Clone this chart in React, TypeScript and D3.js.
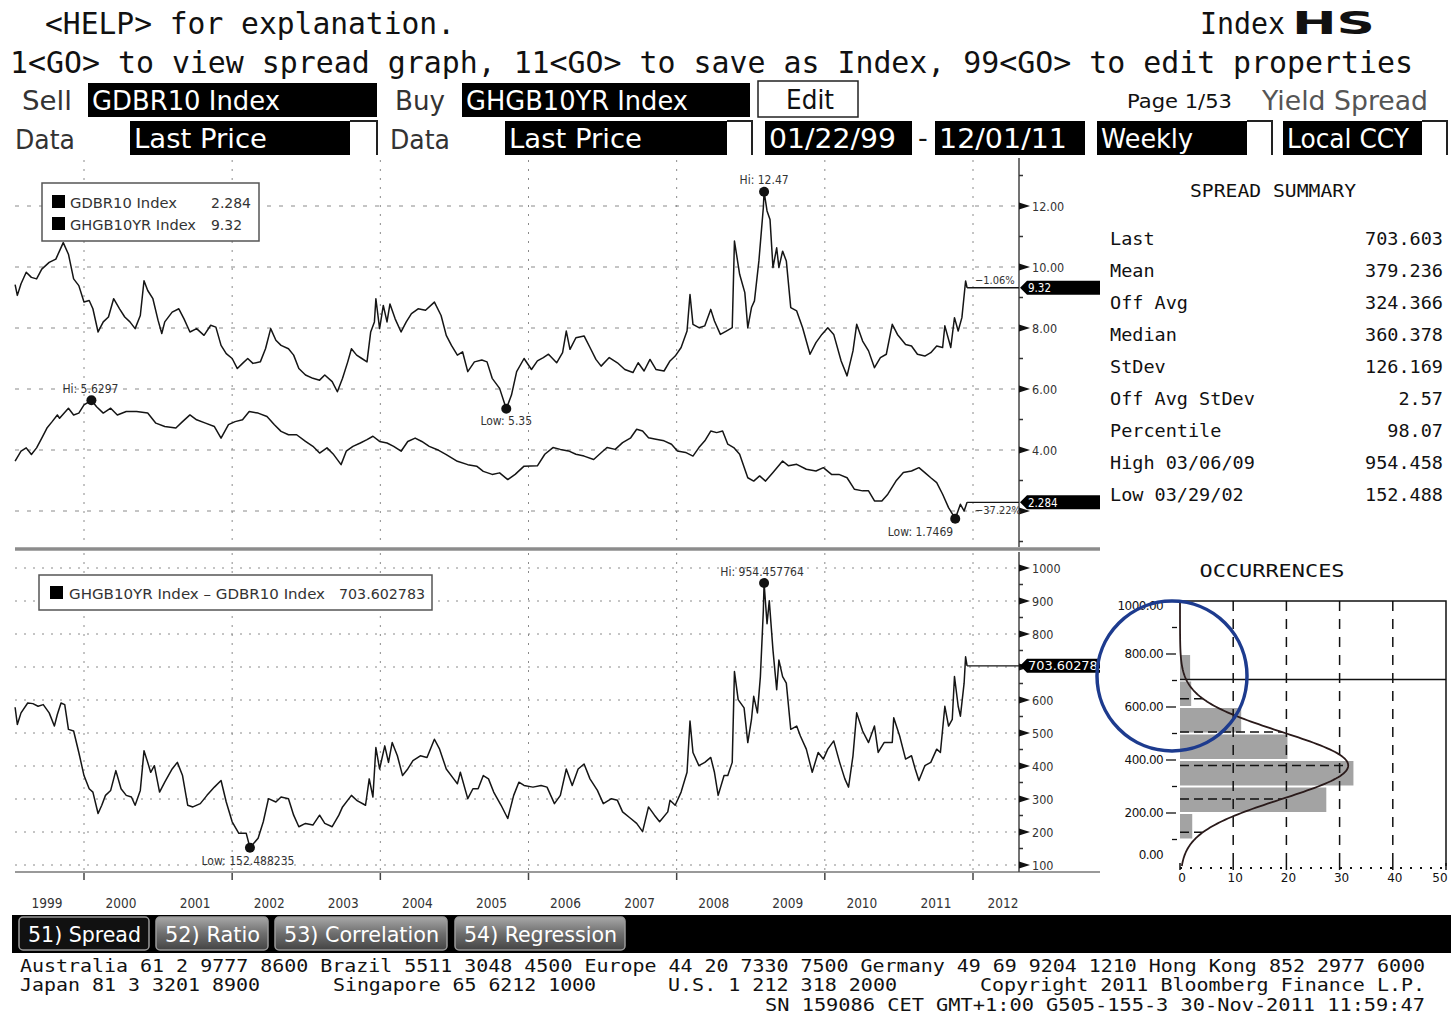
import React from "react";
import * as d3 from "d3";

type Pt = [number, number];

// weekly series, [decimal year, value]
const GDBR10: Pt[] = [
  [1999.07, 3.638], [1999.15, 3.96], [1999.22, 4.07], [1999.29, 3.85], [1999.36, 4.07], [1999.43, 4.39], [1999.5, 4.72],
  [1999.57, 4.93], [1999.64, 5.15], [1999.67, 5.04], [1999.79, 5.37], [1999.86, 5.15], [1999.93, 5.21], [2000.0, 5.48],
  [2000.1, 5.6297], [2000.17, 5.42], [2000.26, 5.21], [2000.36, 5.37], [2000.45, 5.15], [2000.57, 5.26], [2000.71, 5.26],
  [2000.86, 5.21], [2000.97, 4.88], [2001.09, 4.77], [2001.24, 4.72], [2001.33, 4.93], [2001.43, 5.15], [2001.52, 4.99],
  [2001.64, 4.88], [2001.76, 4.77], [2001.85, 4.39], [2001.95, 4.83], [2002.04, 4.93], [2002.14, 4.99], [2002.23, 5.26],
  [2002.35, 5.21], [2002.47, 5.1], [2002.57, 4.83], [2002.66, 4.61], [2002.76, 4.5], [2002.87, 4.5], [2002.99, 4.28],
  [2003.09, 4.12], [2003.18, 3.9], [2003.28, 4.07], [2003.37, 3.85], [2003.47, 3.52], [2003.54, 3.96], [2003.63, 4.12],
  [2003.73, 4.23], [2003.82, 4.34], [2003.9, 4.45], [2003.99, 4.28], [2004.09, 4.23], [2004.18, 4.12], [2004.28, 3.96],
  [2004.37, 4.28], [2004.47, 4.39], [2004.56, 4.28], [2004.66, 4.12], [2004.77, 4.01], [2004.89, 3.85], [2005.04, 3.63],
  [2005.18, 3.52], [2005.3, 3.47], [2005.39, 3.3], [2005.51, 3.2], [2005.61, 3.25], [2005.72, 3.03], [2005.82, 3.2],
  [2005.94, 3.47], [2006.12, 3.48], [2006.22, 3.86], [2006.33, 4.08], [2006.43, 4.02], [2006.54, 3.97], [2006.64, 3.86],
  [2006.75, 3.8], [2006.88, 3.69], [2006.98, 3.91], [2007.06, 4.08], [2007.17, 4.02], [2007.27, 4.24], [2007.38, 4.4],
  [2007.46, 4.68], [2007.54, 4.62], [2007.62, 4.4], [2007.72, 4.35], [2007.83, 4.3], [2007.93, 4.19], [2008.01, 3.97],
  [2008.12, 3.92], [2008.22, 3.8], [2008.3, 4.08], [2008.38, 4.3], [2008.46, 4.62], [2008.54, 4.57], [2008.62, 4.62],
  [2008.69, 4.19], [2008.77, 4.08], [2008.85, 3.86], [2008.96, 3.09], [2009.04, 2.98], [2009.12, 3.15], [2009.2, 2.98],
  [2009.3, 3.26], [2009.43, 3.64], [2009.51, 3.48], [2009.62, 3.53], [2009.75, 3.37], [2009.88, 3.31], [2009.98, 3.42],
  [2010.09, 3.2], [2010.19, 3.2], [2010.3, 3.09], [2010.4, 2.71], [2010.51, 2.66], [2010.59, 2.66], [2010.67, 2.33],
  [2010.77, 2.33], [2010.85, 2.55], [2010.96, 2.98], [2011.06, 3.26], [2011.17, 3.31], [2011.27, 3.42], [2011.35, 3.26],
  [2011.43, 3.09], [2011.51, 2.93], [2011.59, 2.55], [2011.67, 2.11], [2011.76, 1.7469], [2011.83, 2.22], [2011.88, 2.0],
  [2011.92, 2.284],
];

const GHGB10YR: Pt[] = [
  [1999.07, 9.42], [1999.1, 9.07], [1999.15, 9.45], [1999.22, 9.83], [1999.29, 9.66], [1999.36, 9.61], [1999.43, 9.93],
  [1999.53, 10.15], [1999.62, 10.26], [1999.67, 10.53], [1999.72, 10.8], [1999.79, 10.42], [1999.86, 9.61], [1999.93, 9.39],
  [2000.0, 8.85], [2000.07, 8.9], [2000.12, 8.63], [2000.19, 7.87], [2000.26, 8.2], [2000.33, 8.36], [2000.4, 8.96],
  [2000.48, 8.63], [2000.55, 8.36], [2000.62, 8.2], [2000.69, 7.98], [2000.76, 8.41], [2000.81, 9.55], [2000.86, 9.23],
  [2000.93, 8.96], [2001.0, 8.25], [2001.05, 7.82], [2001.09, 8.2], [2001.19, 8.52], [2001.28, 8.63], [2001.35, 8.3],
  [2001.43, 7.87], [2001.52, 7.98], [2001.62, 7.76], [2001.71, 8.09], [2001.78, 8.03], [2001.85, 7.43], [2001.92, 7.16],
  [2002.0, 7.0], [2002.07, 6.67], [2002.14, 6.84], [2002.21, 7.0], [2002.28, 6.84], [2002.38, 6.89], [2002.45, 7.32],
  [2002.52, 7.98], [2002.59, 7.6], [2002.66, 7.43], [2002.76, 7.32], [2002.83, 7.11], [2002.9, 6.67], [2002.99, 6.46],
  [2003.09, 6.35], [2003.18, 6.29], [2003.25, 6.46], [2003.35, 6.24], [2003.42, 5.91], [2003.49, 6.35], [2003.56, 6.89],
  [2003.61, 7.32], [2003.68, 7.11], [2003.75, 7.0], [2003.82, 6.89], [2003.87, 7.87], [2003.92, 8.2], [2003.94, 8.96],
  [2003.99, 7.98], [2004.04, 8.74], [2004.09, 8.2], [2004.13, 8.79], [2004.2, 8.3], [2004.28, 7.87], [2004.35, 8.2],
  [2004.42, 8.47], [2004.51, 8.63], [2004.61, 8.58], [2004.73, 8.85], [2004.82, 8.41], [2004.89, 7.76], [2004.96, 7.43],
  [2005.04, 7.11], [2005.11, 7.22], [2005.18, 6.57], [2005.27, 6.89], [2005.37, 6.95], [2005.44, 6.89], [2005.51, 6.35],
  [2005.61, 6.02], [2005.7, 5.35], [2005.77, 5.8], [2005.84, 6.57], [2005.94, 7.0], [2006.04, 6.64], [2006.12, 6.92],
  [2006.2, 7.03], [2006.27, 7.14], [2006.38, 6.86], [2006.46, 7.19], [2006.51, 7.9], [2006.56, 7.3], [2006.64, 7.68],
  [2006.75, 7.74], [2006.83, 7.36], [2006.91, 6.97], [2006.98, 6.75], [2007.09, 7.03], [2007.2, 6.86], [2007.3, 6.64],
  [2007.41, 6.54], [2007.48, 6.86], [2007.56, 6.59], [2007.64, 6.97], [2007.72, 6.64], [2007.83, 6.59], [2007.91, 6.92],
  [2007.98, 7.08], [2008.06, 7.36], [2008.14, 7.9], [2008.18, 9.1], [2008.22, 8.12], [2008.3, 8.01], [2008.38, 8.07],
  [2008.46, 8.61], [2008.51, 8.23], [2008.59, 7.79], [2008.67, 7.9], [2008.75, 8.01], [2008.78, 10.85], [2008.85, 9.76],
  [2008.92, 9.16], [2008.96, 8.01], [2009.01, 8.67], [2009.05, 8.89], [2009.11, 10.2], [2009.17, 11.95], [2009.18, 12.47],
  [2009.22, 11.84], [2009.26, 11.56], [2009.3, 9.98], [2009.35, 10.63], [2009.38, 9.98], [2009.43, 10.52], [2009.48, 10.2],
  [2009.54, 8.67], [2009.62, 8.56], [2009.7, 8.01], [2009.8, 7.14], [2009.88, 7.52], [2009.96, 7.79], [2010.04, 8.01],
  [2010.12, 7.79], [2010.22, 6.92], [2010.3, 6.43], [2010.38, 7.25], [2010.43, 8.12], [2010.51, 7.57], [2010.59, 7.25],
  [2010.67, 6.7], [2010.75, 7.03], [2010.83, 7.14], [2010.91, 8.12], [2010.98, 7.79], [2011.09, 7.46], [2011.17, 7.41],
  [2011.25, 7.14], [2011.35, 7.08], [2011.43, 7.19], [2011.51, 7.41], [2011.59, 7.36], [2011.62, 8.07], [2011.7, 7.36],
  [2011.75, 8.34], [2011.8, 7.9], [2011.85, 8.34], [2011.9, 9.54], [2011.92, 9.32],
];

const SPREAD: Pt[] = [
  [1999.07, 578], [1999.1, 526], [1999.15, 561], [1999.24, 591], [1999.31, 589], [1999.38, 581], [1999.45, 586],
  [1999.53, 561], [1999.6, 521], [1999.64, 556], [1999.69, 591], [1999.74, 586], [1999.79, 511], [1999.86, 506],
  [1999.93, 441], [2000.0, 371], [2000.07, 331], [2000.12, 321], [2000.19, 256], [2000.24, 281], [2000.29, 311],
  [2000.36, 326], [2000.43, 386], [2000.5, 331], [2000.57, 311], [2000.64, 306], [2000.69, 281], [2000.76, 326],
  [2000.81, 446], [2000.86, 411], [2000.9, 381], [2000.95, 401], [2001.02, 321], [2001.09, 351], [2001.19, 391],
  [2001.26, 411], [2001.33, 371], [2001.4, 281], [2001.47, 276], [2001.57, 286], [2001.66, 311], [2001.76, 336],
  [2001.85, 356], [2001.92, 291], [2002.0, 231], [2002.09, 196], [2002.19, 196], [2002.24, 152.488235], [2002.35, 181],
  [2002.42, 231], [2002.49, 301], [2002.59, 291], [2002.66, 306], [2002.76, 301], [2002.83, 251], [2002.9, 216],
  [2002.99, 226], [2003.09, 221], [2003.18, 251], [2003.25, 226], [2003.35, 216], [2003.44, 251], [2003.49, 276],
  [2003.61, 311], [2003.68, 296], [2003.8, 281], [2003.85, 361], [2003.9, 306], [2003.94, 456], [2003.99, 391],
  [2004.06, 461], [2004.11, 411], [2004.16, 471], [2004.23, 431], [2004.3, 371], [2004.37, 391], [2004.44, 416],
  [2004.54, 431], [2004.63, 426], [2004.73, 481], [2004.8, 451], [2004.89, 391], [2004.99, 361], [2005.04, 346],
  [2005.08, 381], [2005.18, 301], [2005.25, 331], [2005.32, 331], [2005.39, 371], [2005.46, 361], [2005.53, 321],
  [2005.63, 281], [2005.72, 241], [2005.8, 311], [2005.87, 351], [2005.94, 341], [2006.06, 336], [2006.17, 341],
  [2006.25, 336], [2006.35, 286], [2006.43, 311], [2006.51, 391], [2006.59, 341], [2006.67, 391], [2006.75, 406],
  [2006.83, 361], [2006.93, 326], [2007.01, 286], [2007.12, 301], [2007.2, 296], [2007.27, 261], [2007.38, 241],
  [2007.46, 226], [2007.54, 201], [2007.62, 276], [2007.7, 251], [2007.77, 231], [2007.88, 261], [2007.91, 296],
  [2007.98, 281], [2008.06, 321], [2008.14, 381], [2008.18, 536], [2008.22, 441], [2008.3, 401], [2008.38, 411],
  [2008.46, 426], [2008.51, 381], [2008.56, 311], [2008.64, 371], [2008.69, 371], [2008.75, 411], [2008.78, 686],
  [2008.83, 601], [2008.91, 576], [2008.96, 471], [2009.01, 541], [2009.04, 611], [2009.09, 561], [2009.13, 671],
  [2009.17, 871], [2009.18, 954.457764], [2009.22, 831], [2009.25, 901], [2009.3, 751], [2009.35, 631], [2009.38, 721],
  [2009.43, 671], [2009.48, 651], [2009.54, 511], [2009.62, 521], [2009.67, 491], [2009.75, 451], [2009.83, 381],
  [2009.91, 441], [2009.98, 421], [2010.04, 451], [2010.12, 476], [2010.2, 411], [2010.27, 361], [2010.32, 336],
  [2010.38, 431], [2010.43, 561], [2010.51, 506], [2010.59, 471], [2010.67, 521], [2010.72, 441], [2010.8, 471],
  [2010.91, 471], [2010.93, 546], [2011.01, 491], [2011.09, 421], [2011.17, 431], [2011.22, 391], [2011.27, 356],
  [2011.35, 401], [2011.43, 411], [2011.51, 451], [2011.56, 441], [2011.62, 581], [2011.67, 521], [2011.72, 541],
  [2011.75, 671], [2011.8, 581], [2011.83, 551], [2011.88, 651], [2011.9, 731], [2011.92, 703.602783],
];

const YEAR_LABELS = [1999, 2000, 2001, 2002, 2003, 2004, 2005, 2006, 2007, 2008, 2009, 2010, 2011, 2012];
const GRID_YEARS = [2000, 2002, 2004, 2006, 2008, 2010, 2012];
const UPPER_TICKS = [2, 4, 6, 8, 10, 12];
const UPPER_MINOR = [1, 3, 5, 7, 9, 11, 13];
const LOWER_TICKS = [100, 200, 300, 400, 500, 600, 700, 800, 900, 1000];

const SUMMARY_LABELS = ["Last", "Mean", "Off Avg", "Median", "StDev", "Off Avg StDev", "Percentile", "High 03/06/09", "Low 03/29/02"];
const SUMMARY_VALUES = ["703.603", "379.236", "324.366", "360.378", "126.169", "2.57", "98.07", "954.458", "152.488"];

const MEAN = 379.236;
const STDEV = 126.169;

// occurrences (% of weeks) per 100bp bucket, lower edge of bucket
const HIST_BINS = [100, 200, 300, 400, 500, 600, 700];
const HIST_PCT = [2.3, 27.5, 32.6, 20.2, 11.5, 2.1, 1.9];
const HIST_Y_TICKS = [0, 200, 400, 600, 800, 1000];
const HIST_Y_MINOR = [100, 300, 500, 700, 900];
const HIST_X_TICKS = [0, 10, 20, 30, 40, 50];

const BUTTONS = ["51) Spread", "52) Ratio", "53) Correlation", "54) Regression"];

const MONO = "'DejaVu Sans Mono', 'Liberation Mono', monospace";
const SANS = "'DejaVu Sans', 'Liberation Sans', sans-serif";
const COND = "'DejaVu Sans Condensed', 'Liberation Sans Narrow', 'DejaVu Sans', sans-serif";

const AXIS_X = 1019;
const PANEL_R = 1100;

const last = (d: Pt[]) => d[d.length - 1];

function Marker({ p, label, dx, dy, anchor, sx, sy }: any) {
  return (
    <g>
      <circle cx={sx(p[0])} cy={sy(p[1])} r={5} fill="#111" />
      <text x={sx(p[0]) + dx} y={sy(p[1]) + dy} fontSize={12} fontFamily={COND} fill="#333" textAnchor={anchor}>
        {label}
      </text>
    </g>
  );
}

function ValueTag({ y, text }: { y: number; text: string }) {
  return (
    <g>
      <path d={`M${AXIS_X + 1},${y} L${AXIS_X + 8},${y - 7} L${PANEL_R},${y - 7} L${PANEL_R},${y + 7} L${AXIS_X + 8},${y + 7} Z`} fill="#000" />
      <text x={AXIS_X + 9} y={y + 4.5} fontSize={11.5} fontFamily={COND} fill="#fff" textLength={text.length > 6 ? 78 : undefined} lengthAdjust="spacingAndGlyphs">
        {text}
      </text>
    </g>
  );
}

function Box({ x, w, y, h, text, tl, bracket }: any) {
  return (
    <g>
      <rect x={x} y={y} width={w} height={h} fill="#000" />
      <text x={x + 4} y={y + h - 7} fontSize={27} fontFamily={SANS} fill="#fff" textLength={tl} lengthAdjust="spacingAndGlyphs">
        {text}
      </text>
      {bracket && <path d={`M${x + w},${y} H${bracket} V${y + h}`} fill="none" stroke="#222" strokeWidth={2} />}
    </g>
  );
}

export default function App() {
  const x = d3.scaleLinear().domain([2000, 2012]).range([84, 973]);
  const yUp = d3.scaleLinear().domain([2, 12]).range([511, 206]);
  const yLow = d3.scaleLinear().domain([100, 1000]).range([865, 568]);
  const hx = d3.scaleLinear().domain([0, 50]).range([1180, 1446]);
  const hy = d3.scaleLinear().domain([0, 1000]).range([866, 601]);

  const lineUp = d3.line<Pt>().x((d) => x(d[0])).y((d) => yUp(d[1]));
  const lineLow = d3.line<Pt>().x((d) => x(d[0])).y((d) => yLow(d[1]));

  const hiLo = (d: Pt[]) => [d[d3.maxIndex(d, (p) => p[1])], d[d3.minIndex(d, (p) => p[1])]];
  const [gbHi, gbLo] = hiLo(GHGB10YR);
  const [bdHi, bdLo] = hiLo(GDBR10);
  const [spHi, spLo] = hiLo(SPREAD);

  const pct = (d: Pt[]) => d3.format(".2f")((last(d)[1] / d[0][1] - 1) * 100) + "%";

  // fitted normal density, scaled to % per 100bp bucket
  const PEAK = (100 * 100) / (STDEV * Math.sqrt(2 * Math.PI));
  const normal = (v: number) => PEAK * Math.exp(-((v - MEAN) ** 2) / (2 * STDEV * STDEV));
  const curve = d3.range(0, 1001, 5).map((v) => [normal(v), v] as Pt);
  const curveLine = d3.line<Pt>().x((d) => hx(d[0])).y((d) => hy(d[1]));

  const fmt2 = d3.format(".2f");

  // tick labels hidden behind the last-value tags
  const upTags = [yUp(last(GHGB10YR)[1]), yUp(last(GDBR10)[1])];
  const lowTags = [yLow(last(SPREAD)[1])];
  const free = (y: number, tags: number[]) => tags.every((t) => Math.abs(t - y) > 11);

  return (
    <svg width={1451} height={1017} style={{ position: "absolute", left: 0, top: 0, background: "#fff" }}>
      <defs>
        <linearGradient id="btn" x1="0" y1="0" x2="0" y2="1">
          <stop offset="0" stopColor="#a8a8a8" />
          <stop offset="0.5" stopColor="#6e6e6e" />
          <stop offset="1" stopColor="#444" />
        </linearGradient>
        <clipPath id="clipUp"><rect x={14} y={158} width={AXIS_X - 14} height={390} /></clipPath>
        <clipPath id="clipLow"><rect x={14} y={552} width={AXIS_X - 14} height={320} /></clipPath>
      </defs>

      {/* header */}
      <g fontFamily={MONO} fill="#111">
        <text x={45} y={34} fontSize={30} textLength={410} lengthAdjust="spacingAndGlyphs">{"<HELP> for explanation."}</text>
        <text x={1200} y={34} fontSize={30} textLength={85} lengthAdjust="spacingAndGlyphs">Index</text>
        <text x={1292} y={34} fontSize={32} fontFamily={SANS} fontWeight={900} textLength={83} lengthAdjust="spacingAndGlyphs">HS</text>
        <text x={10} y={73} fontSize={30} textLength={1403} lengthAdjust="spacingAndGlyphs">
          {"1<GO> to view spread graph, 11<GO> to save as Index, 99<GO> to edit properties"}
        </text>
      </g>

      <g fontFamily={SANS}>
        <text x={22} y={110} fontSize={27} fill="#333" textLength={50} lengthAdjust="spacingAndGlyphs">Sell</text>
        <Box x={88} w={289} y={83} h={34} text="GDBR10 Index" tl={188} />
        <text x={395} y={110} fontSize={27} fill="#333" textLength={50} lengthAdjust="spacingAndGlyphs">Buy</text>
        <Box x={462} w={288} y={83} h={34} text="GHGB10YR Index" tl={222} />
        <rect x={758} y={81} width={100} height={36} fill="#fff" stroke="#222" strokeWidth={1.5} />
        <text x={786} y={109} fontSize={27} fill="#111" textLength={48} lengthAdjust="spacingAndGlyphs">Edit</text>
        <text x={1127} y={108} fontSize={20} fill="#111" textLength={105} lengthAdjust="spacingAndGlyphs">Page 1/53</text>
        <text x={1262} y={110} fontSize={27} fill="#555" textLength={166} lengthAdjust="spacingAndGlyphs">Yield Spread</text>

        <text x={15} y={149} fontSize={27} fill="#333" textLength={60} lengthAdjust="spacingAndGlyphs">Data</text>
        <Box x={130} w={220} y={121} h={34} text="Last Price" tl={133} bracket={377} />
        <text x={390} y={149} fontSize={27} fill="#333" textLength={60} lengthAdjust="spacingAndGlyphs">Data</text>
        <Box x={505} w={222} y={121} h={34} text="Last Price" tl={133} bracket={752} />
        <Box x={765} w={147} y={121} h={34} text="01/22/99" tl={127} />
        <text x={918} y={147} fontSize={27} fill="#111">-</text>
        <Box x={935} w={150} y={121} h={34} text="12/01/11" tl={128} />
        <Box x={1097} w={150} y={121} h={34} text="Weekly" tl={92} bracket={1272} />
        <Box x={1283} w={139} y={121} h={34} text="Local CCY" tl={122} bracket={1447} />
      </g>

      {/* grids */}
      <g stroke="#8a8a8a" strokeWidth={1}>
        {GRID_YEARS.map((yr) => (
          <g key={yr}>
            <line x1={x(yr)} x2={x(yr)} y1={160} y2={546} strokeDasharray="2,7" />
            <line x1={x(yr)} x2={x(yr)} y1={553} y2={871} strokeDasharray="2,7" />
            <line x1={x(yr)} x2={x(yr)} y1={872} y2={880} stroke="#444" strokeWidth={1.5} />
          </g>
        ))}
        {UPPER_TICKS.map((v) => (
          <line key={v} x1={15} x2={AXIS_X} y1={yUp(v)} y2={yUp(v)} strokeDasharray="4,8" />
        ))}
        {LOWER_TICKS.map((v) => (
          <line key={v} x1={15} x2={AXIS_X} y1={yLow(v)} y2={yLow(v)} strokeDasharray="2,7" />
        ))}
      </g>

      {/* separators / axes */}
      <line x1={15} x2={PANEL_R} y1={549} y2={549} stroke="#8c8c8c" strokeWidth={3.5} />
      <line x1={15} x2={PANEL_R} y1={872} y2={872} stroke="#999" strokeWidth={2} />
      <line x1={AXIS_X} x2={AXIS_X} y1={158} y2={547} stroke="#444" strokeWidth={1.5} />
      <line x1={AXIS_X} x2={AXIS_X} y1={552} y2={872} stroke="#444" strokeWidth={1.5} />

      <g fontFamily={COND} fontSize={12.5} fill="#333">
        {UPPER_TICKS.map((v) => (
          <g key={v}>
            <path d={`M${AXIS_X},${yUp(v) - 3.5} L${AXIS_X},${yUp(v) + 3.5} L${AXIS_X + 11},${yUp(v)} Z`} fill="#111" />
            {free(yUp(v), upTags) && <text x={AXIS_X + 13} y={yUp(v) + 5}>{fmt2(v)}</text>}
          </g>
        ))}
        {UPPER_MINOR.map((v) => (
          <line key={v} x1={AXIS_X} x2={AXIS_X + 4} y1={yUp(v)} y2={yUp(v)} stroke="#333" strokeWidth={1.5} />
        ))}
        {LOWER_TICKS.map((v) => (
          <g key={v}>
            <path d={`M${AXIS_X},${yLow(v) - 3.5} L${AXIS_X},${yLow(v) + 3.5} L${AXIS_X + 11},${yLow(v)} Z`} fill="#111" />
            {free(yLow(v), lowTags) && <text x={AXIS_X + 13} y={yLow(v) + 5}>{v}</text>}
            {v < 1000 && <line x1={AXIS_X} x2={AXIS_X + 4} y1={yLow(v + 50)} y2={yLow(v + 50)} stroke="#333" strokeWidth={1.5} />}
          </g>
        ))}
        {YEAR_LABELS.map((yr) => (
          <text key={yr} x={yr === 2012 ? 1003 : x(yr + 0.5)} y={908} fontSize={13.5} textAnchor="middle">{yr}</text>
        ))}
      </g>

      {/* series */}
      <g fill="none" stroke="#151515" strokeWidth={1.5} strokeLinejoin="round">
        <path d={lineUp(GHGB10YR) || ""} clipPath="url(#clipUp)" />
        <path d={lineUp(GDBR10) || ""} clipPath="url(#clipUp)" />
        <path d={lineLow(SPREAD) || ""} clipPath="url(#clipLow)" />
        <line x1={x(last(GHGB10YR)[0])} x2={AXIS_X} y1={yUp(last(GHGB10YR)[1])} y2={yUp(last(GHGB10YR)[1])} strokeWidth={1.3} />
        <line x1={x(last(GDBR10)[0])} x2={AXIS_X} y1={yUp(last(GDBR10)[1])} y2={yUp(last(GDBR10)[1])} strokeWidth={1.3} />
        <line x1={x(last(SPREAD)[0])} x2={AXIS_X} y1={yLow(last(SPREAD)[1])} y2={yLow(last(SPREAD)[1])} strokeWidth={1.3} />
      </g>
      <text x={975} y={yUp(last(GHGB10YR)[1]) - 4} fontSize={11} fontFamily={COND} fill="#333">{pct(GHGB10YR)}</text>
      <text x={975} y={yUp(last(GDBR10)[1]) + 12} fontSize={11} fontFamily={COND} fill="#333">{pct(GDBR10)}</text>

      <ValueTag y={yUp(last(GHGB10YR)[1])} text={String(last(GHGB10YR)[1])} />
      <ValueTag y={yUp(last(GDBR10)[1])} text={String(last(GDBR10)[1])} />
      <ValueTag y={yLow(last(SPREAD)[1])} text={String(last(SPREAD)[1])} />

      <Marker p={gbHi} label={`Hi: ${gbHi[1]}`} dx={0} dy={-8} anchor="middle" sx={x} sy={yUp} />
      <Marker p={gbLo} label={`Low: ${gbLo[1]}`} dx={0} dy={16} anchor="middle" sx={x} sy={yUp} />
      <Marker p={bdHi} label={`Hi: ${bdHi[1]}`} dx={-1} dy={-7} anchor="middle" sx={x} sy={yUp} />
      <Marker p={bdLo} label={`Low: ${bdLo[1]}`} dx={-2} dy={17} anchor="end" sx={x} sy={yUp} />
      <Marker p={spHi} label={`Hi: ${spHi[1]}`} dx={-2} dy={-7} anchor="middle" sx={x} sy={yLow} />
      <Marker p={spLo} label={`Low: ${spLo[1]}`} dx={-2} dy={17} anchor="middle" sx={x} sy={yLow} />

      {/* legends */}
      <g fontFamily={COND} fontSize={14} fill="#333">
        <rect x={42} y={183} width={217} height={58} fill="#fff" stroke="#555" strokeWidth={1.5} />
        <rect x={52} y={195} width={13} height={13} fill="#000" />
        <rect x={52} y={217} width={13} height={13} fill="#000" />
        <text x={70} y={208} textLength={107} lengthAdjust="spacingAndGlyphs">GDBR10 Index</text>
        <text x={211} y={208} textLength={40} lengthAdjust="spacingAndGlyphs">{String(last(GDBR10)[1])}</text>
        <text x={70} y={230} textLength={126} lengthAdjust="spacingAndGlyphs">GHGB10YR Index</text>
        <text x={211} y={230} textLength={31} lengthAdjust="spacingAndGlyphs">{String(last(GHGB10YR)[1])}</text>

        <rect x={39} y={575} width={393} height={35} fill="#fff" stroke="#555" strokeWidth={1.5} />
        <rect x={50} y={586} width={13} height={13} fill="#000" />
        <text x={69} y={599} textLength={256} lengthAdjust="spacingAndGlyphs">GHGB10YR Index – GDBR10 Index</text>
        <text x={339} y={599} textLength={86} lengthAdjust="spacingAndGlyphs">{String(last(SPREAD)[1])}</text>
      </g>

      {/* spread summary */}
      <g fontFamily={MONO} fill="#111">
        <text x={1273} y={197} fontSize={17} textAnchor="middle" textLength={166} lengthAdjust="spacingAndGlyphs">SPREAD SUMMARY</text>
        {SUMMARY_LABELS.map((l, i) => (
          <g key={l}>
            <text x={1110} y={245 + i * 32} fontSize={18.5}>{l}</text>
            <text x={1443} y={245 + i * 32} fontSize={18.5} textAnchor="end">{SUMMARY_VALUES[i]}</text>
          </g>
        ))}
        <text x={1272} y={577} fontSize={17} textAnchor="middle" textLength={145} lengthAdjust="spacingAndGlyphs">OCCURRENCES</text>
      </g>

      {/* histogram */}
      <g>
        {HIST_BINS.map((lo, i) => (
          <rect key={lo} x={hx(0)} y={hy(lo + 100) + 1} width={hx(HIST_PCT[i]) - hx(0)} height={hy(lo) - hy(lo + 100) - 2} fill="#a3a3a3" />
        ))}
        {[10, 20, 30, 40].map((v) => (
          <line key={v} x1={hx(v)} x2={hx(v)} y1={hy(1000)} y2={hy(0)} stroke="#111" strokeWidth={1.5} strokeDasharray="10,8" />
        ))}
        {[-2, -1, 0, 1, 2].map((k) => {
          const v = MEAN + k * STDEV;
          return <line key={k} x1={hx(0)} x2={hx(normal(v))} y1={hy(v)} y2={hy(v)} stroke="#111" strokeWidth={1.5} strokeDasharray="9,5" />;
        })}
        <path d={`M${hx(0)},${hy(1000)} H${hx(50)} V${hy(0)}`} fill="none" stroke="#111" strokeWidth={1.5} />
        <line x1={hx(0)} x2={hx(50)} y1={hy(0) + 2} y2={hy(0) + 2} stroke="#111" strokeWidth={2} strokeDasharray="2,8" />
        <line x1={hx(0)} x2={hx(50)} y1={hy(last(SPREAD)[1])} y2={hy(last(SPREAD)[1])} stroke="#111" strokeWidth={1.5} />
        <path d={curveLine(curve) || ""} fill="none" stroke="#2a1a1a" strokeWidth={1.8} />
        <g fontFamily={SANS} fontSize={12} fill="#111">
          {HIST_Y_TICKS.map((v) => (
            <g key={v}>
              <text x={1163} y={Math.min(Math.max(hy(v) + 4, 610), 859)} textAnchor="end" letterSpacing={-0.6}>{fmt2(v)}</text>
              {v > 0 && v < 1000 && <line x1={1166} x2={1176} y1={hy(v)} y2={hy(v)} stroke="#111" strokeWidth={1.3} />}
            </g>
          ))}
          {HIST_Y_MINOR.map((v) => (
            <line key={v} x1={1172} x2={1177} y1={hy(v)} y2={hy(v)} stroke="#111" strokeWidth={1.3} />
          ))}
          {HIST_X_TICKS.map((v) => (
            <g key={v}>
              <line x1={hx(v)} x2={hx(v)} y1={hy(0) - 3} y2={hy(0) + 4} stroke="#111" strokeWidth={1.5} />
              <text x={hx(v) + (v === 50 ? -6 : 2)} y={882} textAnchor="middle">{v}</text>
            </g>
          ))}
        </g>
      </g>
      <circle cx={1172} cy={676} r={75} fill="none" stroke="#1d3b8e" strokeWidth={3.5} />

      {/* function buttons */}
      <rect x={12} y={915} width={1439} height={38} fill="#000" />
      {BUTTONS.map((b, i) => {
        const bx = [19, 156, 275, 455][i];
        const bw = [130, 112, 172, 170][i];
        return (
          <g key={b}>
            <rect x={bx} y={917} width={bw} height={33} rx={4} fill={i === 0 ? "#111" : "url(#btn)"} stroke="#9a9a9a" strokeWidth={1.5} />
            <text x={bx + 9} y={942} fontSize={22} fontFamily={COND} fill="#fff" textLength={bw - 17} lengthAdjust="spacingAndGlyphs">{b}</text>
          </g>
        );
      })}

      {/* footer */}
      <g fontFamily={MONO} fontSize={17.5} fill="#111">
        <text x={20} y={972} textLength={1405} lengthAdjust="spacingAndGlyphs">
          Australia 61 2 9777 8600 Brazil 5511 3048 4500 Europe 44 20 7330 7500 Germany 49 69 9204 1210 Hong Kong 852 2977 6000
        </text>
        <text x={20} y={991} textLength={240} lengthAdjust="spacingAndGlyphs">Japan 81 3 3201 8900</text>
        <text x={333} y={991} textLength={263} lengthAdjust="spacingAndGlyphs">Singapore 65 6212 1000</text>
        <text x={668} y={991} textLength={229} lengthAdjust="spacingAndGlyphs">U.S. 1 212 318 2000</text>
        <text x={980} y={991} textLength={445} lengthAdjust="spacingAndGlyphs">Copyright 2011 Bloomberg Finance L.P.</text>
        <text x={765} y={1011} textLength={660} lengthAdjust="spacingAndGlyphs">SN 159086 CET  GMT+1:00 G505-155-3 30-Nov-2011 11:59:47</text>
      </g>
    </svg>
  );
}
